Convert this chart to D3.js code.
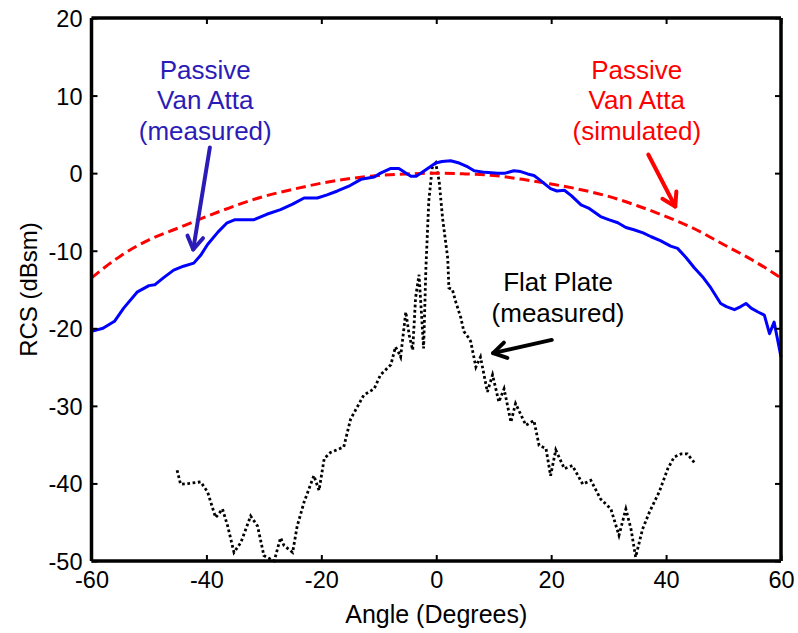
<!DOCTYPE html>
<html>
<head>
<meta charset="utf-8">
<script src="https://cdn.jsdelivr.net/npm/d3@7"></script>
<style>
  html, body { margin: 0; padding: 0; background: #fff; }
  svg { display: block; font-family: "Liberation Sans", Arial, sans-serif; }
</style>
</head>
<body>
<svg id="chart" width="798" height="633"></svg>
<script>
// ---- Data ----
const xTicks = [-60, -40, -20, 0, 20, 40, 60];
const yTicks = [-50, -40, -30, -20, -10, 0, 10, 20];

// Passive Van Atta (measured) - blue solid
const measuredAngle = [-60, -58, -56, -54.4, -52, -50, -49, -47.5, -45.7, -44, -42.2, -41, -39.8, -38, -36.4, -35, -33, -31.7, -29.5, -27.1, -25, -23, -20.7, -19, -17.2, -15, -13.1, -10.8, -9.7, -7.9, -6.5, -5.5, -4.4, -3.5, -2.7, -1.3, -0.1, 1, 2.5, 4, 5.5, 6.6, 8.5, 10.7, 12, 13.5, 14.7, 15.9, 17, 17.9, 19.9, 21, 22.3, 23.5, 25.2, 26.5, 28.6, 30, 31.6, 33, 34.4, 36, 37.4, 39, 40.8, 42, 43.5, 44.9, 46.5, 47.8, 49.5, 50.5, 51.9, 53, 53.9, 54.8, 56, 57.1, 58, 58.8, 60];
const measuredRCS = [-20.4, -20.0, -19.1, -17.4, -15.3, -14.5, -14.4, -13.5, -12.5, -12.0, -11.6, -10.6, -9.2, -7.6, -6.4, -6.0, -6.0, -6.0, -5.3, -4.7, -4.0, -3.2, -3.2, -2.8, -2.3, -1.6, -0.8, -0.5, 0.0, 0.6, 0.6, 0.1, -0.4, -0.4, 0.0, 0.7, 1.3, 1.5, 1.6, 1.3, 0.8, 0.3, 0.1, 0.0, 0.0, 0.3, 0.2, -0.1, -0.3, -0.8, -2.0, -2.3, -2.2, -2.9, -4.1, -4.5, -5.6, -6.0, -6.4, -7.0, -7.3, -7.7, -8.2, -8.7, -9.4, -9.7, -10.9, -12.2, -13.5, -14.8, -16.8, -17.2, -17.6, -17.2, -16.8, -17.4, -17.9, -18.3, -20.7, -19.2, -23.7];

// Passive Van Atta (simulated) - red dashed
const simulatedAngle = [-60, -55, -50, -45, -40, -35, -30, -25, -20, -15, -10, -5, 0, 5, 10, 15, 20, 25, 30, 35, 40, 45, 50, 55, 60];
const simulatedRCS = [-13.5, -10.7, -8.6, -7.1, -5.6, -4.2, -3.0, -2.1, -1.3, -0.7, -0.3, -0.1, 0, -0.1, -0.3, -0.8, -1.4, -2.1, -3.0, -4.2, -5.6, -7.2, -9.2, -11.2, -13.5];

// Flat Plate (measured) - black dotted
const plateAngle = [-45.1, -44.5, -43, -41, -39.8, -38.4, -37.2, -36.3, -35.2, -34.0, -32.3, -31.1, -30.0, -28.2, -27.1, -26.5, -25.0, -24.2, -23.0, -21.3, -20.4, -19.5, -18.4, -16.1, -14.9, -12.6, -10.8, -9.7, -7.9, -7.1, -6.5, -6.2, -5.3, -4.7, -4.1, -3.6, -3.0, -2.7, -2.2, -1.8, -1.3, -0.7, -0.1, 0.5, 1.1, 2.0, 2.2, 2.8, 3.4, 4.3, 4.8, 5.7, 6.0, 6.9, 7.7, 8.9, 9.8, 10.9, 11.8, 13.0, 13.8, 15.6, 17.0, 17.9, 19.1, 19.9, 20.8, 22.3, 23.7, 25.5, 26.9, 28.6, 30.4, 31.8, 33.0, 33.9, 34.7, 35.9, 37.1, 38.8, 40.3, 41.4, 42.6, 43.7, 44.9];
const plateRCS = [-38.3, -40.1, -40.0, -39.8, -41.1, -44.4, -43.3, -45.5, -48.9, -47.6, -44.2, -45.5, -49.3, -50.0, -47.0, -48.0, -48.9, -45.5, -42.4, -39.0, -40.9, -36.8, -36.0, -35.3, -31.7, -28.6, -27.8, -26.0, -24.7, -22.4, -23.2, -23.7, -17.9, -20.9, -22.8, -16.1, -13.1, -16.6, -22.6, -12.2, -3.6, 0.7, 1.3, -1.0, -5.8, -11.0, -14.8, -15.0, -16.6, -18.7, -20.4, -21.3, -21.7, -25.0, -23.7, -28.2, -26.0, -29.5, -27.8, -32.1, -29.7, -32.5, -31.9, -35.1, -35.5, -39.0, -35.7, -38.1, -37.7, -40.1, -39.6, -42.0, -43.3, -46.7, -43.3, -45.9, -49.5, -45.9, -43.7, -41.1, -38.1, -36.6, -36.2, -36.2, -37.3];

// Annotations (text anchor in data coords, arrow start/tip in data coords)
const annoLabels = [["Passive", "Van Atta", "(measured)"], ["Passive", "Van Atta", "(simulated)"], ["Flat Plate", "(measured)"]];
const annoTextX = [-40.2, 34.9, 21.2];
const annoTextY = [12.2, 12.2, -15.2];
const annoColors = ["#2b1cb8", "#ff0000", "#000000"];
const arrowFrom = [[-39.4, 3.3], [36.9, 2.4], [20.1, -21.5]];
const arrowTo = [[-42.3, -9.85], [41.6, -4.3], [9.9, -23.2]];

// ---- Layout ----
const svg = d3.select("#chart");
const x = d3.scaleLinear().domain([-60, 60]).range([91.5, 781]);
const y = d3.scaleLinear().domain([-50, 20]).range([561, 18]);

const line = d3.line().x(d => x(d[0])).y(d => y(d[1]));
const plainFmt = d => String(d);

const plotG = svg.append("g");

// Lines
plotG.append("path")
  .datum(plateAngle.map((a, i) => [a, plateRCS[i]]))
  .attr("d", line).attr("fill", "none")
  .attr("stroke", "#000").attr("stroke-width", 2.8)
  .attr("stroke-dasharray", "2.7 2.6");

plotG.append("path")
  .datum(simulatedAngle.map((a, i) => [a, simulatedRCS[i]]))
  .attr("d", d3.line().curve(d3.curveMonotoneX).x(d => x(d[0])).y(d => y(d[1])))
  .attr("fill", "none")
  .attr("stroke", "#ff0000").attr("stroke-width", 3)
  .attr("stroke-dasharray", "10 5");

plotG.append("path")
  .datum(measuredAngle.map((a, i) => [a, measuredRCS[i]]))
  .attr("d", line).attr("fill", "none")
  .attr("stroke", "#0000ff").attr("stroke-width", 3)
  .attr("stroke-linejoin", "round");

// Axes (ticks inside, box)
const fontTick = 23.5;
const axBottom = svg.append("g").attr("transform", `translate(0,${y(-50)})`)
  .call(d3.axisBottom(x).tickValues(xTicks).tickSize(-6).tickPadding(10).tickFormat(plainFmt));
const axTop = svg.append("g").attr("transform", `translate(0,${y(20)})`)
  .call(d3.axisTop(x).tickValues(xTicks).tickSize(-6).tickFormat(""));
const axLeft = svg.append("g").attr("transform", `translate(${x(-60)},0)`)
  .call(d3.axisLeft(y).tickValues(yTicks).tickSize(-6).tickPadding(9).tickFormat(plainFmt));
const axRight = svg.append("g").attr("transform", `translate(${x(60)},0)`)
  .call(d3.axisRight(y).tickValues(yTicks).tickSize(-6).tickFormat(""));

[axBottom, axTop, axLeft, axRight].forEach(g => {
  g.select(".domain").attr("stroke", "#000").attr("stroke-width", 3.5);
  g.selectAll(".tick line").attr("stroke", "#000").attr("stroke-width", 2);
  g.selectAll(".tick text").attr("fill", "#000")
    .style("font-size", fontTick + "px")
    .style("font-family", "'Liberation Sans', Arial, sans-serif");
});
[axBottom, axTop].forEach(g => g.select(".domain").attr("d", `M${x(-60)},0H${x(60)}`));
[axLeft, axRight].forEach(g => g.select(".domain").attr("d", `M0,${y(-50)}V${y(20)}`));

axLeft.selectAll(".tick text").attr("dy", "0.36em");
axBottom.selectAll(".tick text").attr("dy", "0.72em");

// Axis labels
svg.append("text")
  .attr("x", x(0)).attr("y", 623)
  .attr("text-anchor", "middle")
  .style("font-size", "25px").attr("fill", "#000")
  .text("Angle (Degrees)");

svg.append("text")
  .attr("transform", `translate(37,${(y(20) + y(-50)) / 2}) rotate(-90)`)
  .attr("text-anchor", "middle")
  .style("font-size", "24px").attr("fill", "#000")
  .text("RCS (dBsm)");

// Annotations
annoLabels.forEach((lines, i) => {
  const t = svg.append("text")
    .attr("x", x(annoTextX[i])).attr("y", y(annoTextY[i]))
    .attr("text-anchor", "middle")
    .style("font-size", "26px")
    .attr("fill", annoColors[i]);
  lines.forEach((s, j) => {
    t.append("tspan").attr("x", x(annoTextX[i])).attr("dy", j === 0 ? 0 : 30.8).text(s);
  });

  const x1 = x(arrowFrom[i][0]), y1 = y(arrowFrom[i][1]);
  const x2 = x(arrowTo[i][0]), y2 = y(arrowTo[i][1]);
  const ang = Math.atan2(y2 - y1, x2 - x1);
  const L = 15, spread = 0.55;
  const b1 = [x2 - L * Math.cos(ang - spread), y2 - L * Math.sin(ang - spread)];
  const b2 = [x2 - L * Math.cos(ang + spread), y2 - L * Math.sin(ang + spread)];
  const g = svg.append("g").attr("stroke", annoColors[i]).attr("stroke-width", 4)
    .attr("fill", "none").attr("stroke-linecap", "round").attr("stroke-linejoin", "round");
  g.append("path").attr("d", `M${x1},${y1}L${x2},${y2}`);
  g.append("path").attr("d", `M${b1[0]},${b1[1]}L${x2},${y2}L${b2[0]},${b2[1]}`);
});
</script>
</body>
</html>
